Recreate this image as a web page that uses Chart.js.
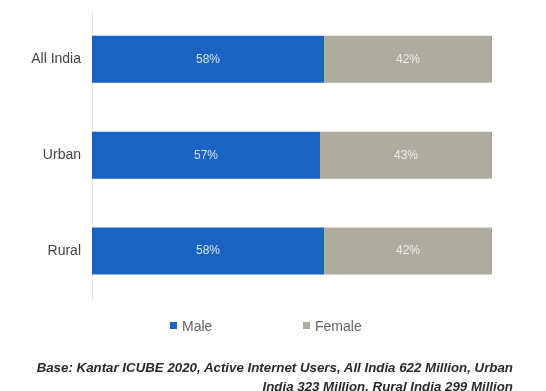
<!DOCTYPE html>
<html>
<head>
<meta charset="utf-8">
<script src="https://cdn.jsdelivr.net/npm/chart.js@4/dist/chart.umd.min.js"></script>
<style>
  html,body{margin:0;padding:0;background:#fff;}
  #wrap{position:relative;width:546px;height:391px;font-family:"Liberation Sans",Arial,sans-serif;}
  #c{position:absolute;left:0;top:0;}
  .legend{position:absolute;top:318px;left:0;width:546px;height:18px;font-size:14px;color:#666;}
  .legend span{position:absolute;top:0;white-space:nowrap;}
  .legend i{display:inline-block;width:7px;height:7px;margin-right:5px;vertical-align:2px;}
  .note{position:absolute;right:33px;top:358px;text-align:right;font-size:13.3px;line-height:19px;
        font-weight:bold;font-style:italic;color:#2a2a2a;white-space:nowrap;}
</style>
</head>
<body>
<div id="wrap">
  <canvas id="c" width="546" height="391"></canvas>
  <div class="legend" id="legend"></div>
  <div class="note">Base: Kantar ICUBE 2020, Active Internet Users, All India 622 Million, Urban<br>India 323 Million, Rural India 299 Million</div>
</div>
<script>
// ---------- DATA ----------
const regions = ['All India', 'Urban', 'Rural'];
const seriesNames = ['Male', 'Female'];
const maleShare = [58, 57, 58];
const femaleShare = [42, 43, 42];
const seriesColors = ['#1b63c2', '#aeab9f'];
const labelColors = ['#d6e4f7', '#efede6'];

// value text drawn in the middle of every bar segment
const barLabels = {
  id: 'barLabels',
  afterDatasetsDraw(chart){
    const ctx = chart.ctx;
    ctx.save();
    ctx.font = '12px "Liberation Sans", Arial, sans-serif';
    ctx.textAlign = 'center';
    ctx.textBaseline = 'middle';
    chart.data.datasets.forEach((ds, di)=>{
      chart.getDatasetMeta(di).data.forEach((bar, i)=>{
        const p = bar.getProps(['x','y','base'], true);
        ctx.fillStyle = labelColors[di];
        ctx.fillText(ds.data[i] + '%', (p.x + p.base)/2, p.y);
      });
    });
    ctx.restore();
  }
};

const chart = new Chart(document.getElementById('c').getContext('2d'), {
  type: 'bar',
  data: {
    labels: regions,
    datasets: [
      {label: seriesNames[0], data: maleShare, backgroundColor: seriesColors[0]},
      {label: seriesNames[1], data: femaleShare, backgroundColor: seriesColors[1]}
    ]
  },
  options: {
    indexAxis: 'y',
    responsive: false,
    animation: false,
    layout: {padding: {top: 6, bottom: 92, left: 0, right: 54}},
    datasets: {bar: {categoryPercentage: 1, barPercentage: 0.49}},
    scales: {
      x: {stacked: true, min: 0, max: 100, display: false},
      y: {
        stacked: true,
        grid: {display: false},
        border: {display: true, color: '#e6e6e6'},
        ticks: {color: '#444', padding: 3, font: {family: '"Liberation Sans", Arial, sans-serif', size: 14}},
        afterFit(s){ s.width = 92; }
      }
    },
    plugins: {legend: {display: false}, tooltip: {enabled: false}}
  },
  plugins: [barLabels]
});

// legend under the plot
const legendPos = [170, 303];
const legendEl = document.getElementById('legend');
seriesNames.forEach((name, i)=>{
  const s = document.createElement('span');
  s.style.left = legendPos[i] + 'px';
  s.innerHTML = `<i style="background:${seriesColors[i]}"></i>${name}`;
  legendEl.appendChild(s);
});
</script>
</body>
</html>
